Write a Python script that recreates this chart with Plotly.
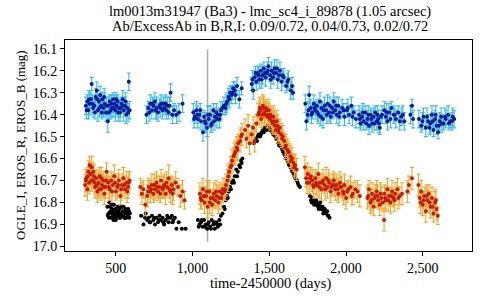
import plotly.graph_objects as go

# ---- EROS_B (blue) : (time, mag, err)
b_points = [
    (305,16.36,0.04),(315,16.34,0.03),(322,16.38,0.04),(330,16.35,0.05),(338,16.33,0.04),
    (343,16.26,0.03),(352,16.37,0.04),(360,16.36,0.03),(368,16.32,0.04),(376,16.29,0.04),
    (383,16.38,0.05),(390,16.34,0.03),(398,16.31,0.04),(405,16.36,0.04),(412,16.33,0.03),
    (420,16.37,0.04),(428,16.35,0.05),(436,16.39,0.04),(448,16.43,0.05),(452,16.36,0.04),
    (460,16.34,0.03),(468,16.38,0.04),(475,16.37,0.04),(483,16.33,0.03),(490,16.35,0.04),
    (498,16.38,0.05),(505,16.36,0.04),(512,16.34,0.03),(520,16.37,0.04),(528,16.39,0.04),
    (536,16.35,0.03),(545,16.33,0.04),(552,16.38,0.05),(560,16.36,0.04),(568,16.40,0.04),
    (575,16.37,0.03),(585,16.25,0.04),(590,16.38,0.04),
    (310,16.38,0.04),(326,16.33,0.04),(348,16.35,0.04),(364,16.39,0.03),(379,16.33,0.04),
    (394,16.37,0.04),(409,16.39,0.03),(424,16.32,0.04),(440,16.36,0.04),(456,16.39,0.03),
    (472,16.35,0.04),(487,16.37,0.04),(502,16.33,0.03),(516,16.39,0.04),(532,16.37,0.04),
    (548,16.36,0.03),(564,16.34,0.04),(580,16.39,0.04),
    (700,16.40,0.04),(712,16.37,0.03),(725,16.35,0.04),(735,16.38,0.04),(745,16.36,0.03),
    (755,16.34,0.04),(765,16.37,0.05),(775,16.39,0.04),(785,16.36,0.03),(795,16.35,0.04),
    (805,16.38,0.04),(815,16.37,0.03),(825,16.35,0.04),(835,16.36,0.04),(845,16.39,0.03),
    (857,16.30,0.04),(868,16.40,0.04),(880,16.38,0.03),(895,16.40,0.04),(912,16.39,0.04),
    (935,16.35,0.04),
    (718,16.39,0.04),(740,16.35,0.03),(760,16.38,0.04),(790,16.37,0.04),(810,16.35,0.03),
    (830,16.38,0.04),(850,16.36,0.04),
    (1005,16.39,0.04),(1015,16.41,0.03),(1025,16.38,0.04),(1035,16.42,0.04),(1045,16.40,0.03),
    (1055,16.43,0.04),(1068,16.48,0.04),(1075,16.41,0.03),(1085,16.44,0.04),(1095,16.46,0.04),
    (1105,16.42,0.03),(1115,16.40,0.04),(1125,16.44,0.04),(1135,16.38,0.03),(1145,16.41,0.04),
    (1155,16.39,0.04),(1165,16.40,0.03),(1175,16.42,0.04),(1185,16.38,0.04),(1195,16.37,0.03),
    (1010,16.42,0.04),(1030,16.40,0.04),(1050,16.38,0.03),(1080,16.43,0.04),(1100,16.40,0.04),
    (1120,16.45,0.03),(1140,16.43,0.04),(1160,16.42,0.04),(1180,16.40,0.03),
    (1205,16.36,0.04),(1215,16.37,0.03),(1225,16.34,0.04),(1235,16.32,0.04),(1245,16.30,0.03),
    (1255,16.31,0.04),(1265,16.28,0.03),(1275,16.29,0.04),(1290,16.27,0.04),(1305,16.33,0.04),
    (1320,16.28,0.03),(1220,16.35,0.04),(1240,16.33,0.04),(1260,16.30,0.03),(1280,16.31,0.04),
    (1385,16.26,0.03),(1395,16.29,0.04),(1405,16.23,0.03),(1415,16.25,0.04),(1425,16.21,0.03),
    (1435,16.24,0.04),(1445,16.20,0.03),(1455,16.22,0.04),(1465,16.19,0.03),(1475,16.23,0.04),
    (1485,16.21,0.03),(1495,16.18,0.04),(1505,16.22,0.03),(1515,16.20,0.04),(1525,16.23,0.03),
    (1535,16.19,0.04),(1545,16.21,0.03),(1555,16.24,0.04),(1565,16.22,0.03),(1580,16.25,0.04),
    (1595,16.23,0.04),(1610,16.27,0.03),(1625,16.24,0.04),(1640,16.29,0.04),(1655,16.30,0.03),
    (1390,16.24,0.04),(1410,16.21,0.03),(1430,16.22,0.04),(1450,16.24,0.04),(1470,16.21,0.03),
    (1490,16.20,0.04),(1510,16.24,0.04),(1530,16.21,0.03),(1550,16.19,0.04),(1570,16.20,0.04),
    (1588,16.22,0.03),(1618,16.25,0.04),(1648,16.27,0.04),
    (1735,16.35,0.04),(1742,16.43,0.04),(1750,16.40,0.03),(1760,16.31,0.04),(1770,16.37,0.04),
    (1780,16.39,0.03),(1790,16.35,0.04),(1800,16.38,0.04),(1810,16.36,0.03),(1820,16.40,0.04),
    (1830,16.34,0.04),(1840,16.37,0.03),(1850,16.42,0.04),(1860,16.36,0.04),(1870,16.38,0.03),
    (1880,16.35,0.04),(1890,16.39,0.04),(1900,16.41,0.03),(1910,16.37,0.04),(1920,16.34,0.04),
    (1930,16.38,0.03),(1940,16.40,0.04),(1950,16.36,0.04),(1960,16.39,0.03),(1975,16.37,0.04),
    (1990,16.41,0.04),(2005,16.38,0.03),(2020,16.40,0.04),(2035,16.36,0.04),(2050,16.39,0.03),
    (2065,16.42,0.04),
    (1755,16.38,0.04),(1775,16.40,0.04),(1795,16.37,0.03),(1815,16.39,0.04),(1835,16.41,0.04),
    (1855,16.38,0.03),(1875,16.40,0.04),(1895,16.36,0.04),(1915,16.39,0.03),(1935,16.36,0.04),
    (1955,16.41,0.04),(1985,16.38,0.03),(2012,16.37,0.04),(2042,16.41,0.04),
    (2085,16.40,0.04),(2095,16.44,0.03),(2105,16.41,0.04),(2115,16.43,0.04),(2125,16.39,0.03),
    (2140,16.42,0.04),(2150,16.45,0.04),(2160,16.40,0.03),(2170,16.44,0.04),(2180,16.41,0.04),
    (2190,16.39,0.03),(2200,16.43,0.04),(2210,16.42,0.04),(2220,16.46,0.03),(2235,16.40,0.04),
    (2250,16.38,0.04),(2260,16.41,0.03),(2270,16.43,0.04),(2280,16.39,0.04),(2295,16.37,0.03),
    (2310,16.40,0.04),(2325,16.42,0.04),(2340,16.39,0.03),(2360,16.41,0.04),(2380,16.43,0.04),
    (2430,16.36,0.03),(2420,16.40,0.04),(2437,16.42,0.04),
    (2090,16.42,0.04),(2110,16.39,0.04),(2132,16.44,0.03),(2145,16.40,0.04),(2165,16.42,0.04),
    (2185,16.44,0.03),(2205,16.40,0.04),(2215,16.44,0.04),(2228,16.41,0.03),(2265,16.39,0.04),
    (2290,16.42,0.04),(2318,16.40,0.03),(2350,16.43,0.04),(2370,16.40,0.04),
    (2475,16.42,0.04),(2490,16.45,0.03),(2505,16.41,0.04),(2520,16.46,0.04),(2535,16.43,0.03),
    (2550,16.44,0.04),(2560,16.40,0.04),(2570,16.47,0.03),(2580,16.42,0.04),(2590,16.45,0.04),
    (2600,16.48,0.03),(2610,16.43,0.04),(2620,16.41,0.04),(2635,16.44,0.03),(2650,16.42,0.04),
    (2665,16.40,0.04),(2680,16.43,0.03),(2695,16.41,0.04),(2705,16.42,0.04),
    (2498,16.43,0.04),(2528,16.41,0.04),(2545,16.46,0.03),(2565,16.43,0.04),(2585,16.40,0.04),
    (2605,16.45,0.03),(2625,16.44,0.04),(2645,16.41,0.04),(2670,16.44,0.03),(2690,16.43,0.04),
]

# ---- EROS_R (red) : (time, mag, err)
r_points = [
    (300,16.72,0.05),(308,16.69,0.04),(315,16.74,0.05),(322,16.66,0.05),(330,16.63,0.04),
    (337,16.67,0.05),(343,16.64,0.05),(350,16.70,0.04),(357,16.68,0.05),(365,16.73,0.05),
    (372,16.69,0.04),(380,16.75,0.05),(388,16.71,0.05),(395,16.68,0.04),(403,16.74,0.05),
    (410,16.72,0.05),(418,16.70,0.04),(425,16.76,0.05),(433,16.73,0.05),(440,16.66,0.04),
    (450,16.71,0.05),(460,16.74,0.05),(470,16.70,0.04),(480,16.72,0.05),(490,16.68,0.05),
    (500,16.75,0.04),(510,16.73,0.05),(520,16.70,0.05),(530,16.77,0.04),(540,16.72,0.05),
    (550,16.69,0.05),(560,16.74,0.04),(570,16.71,0.05),(580,16.73,0.05),(590,16.70,0.04),
    (304,16.70,0.05),(318,16.68,0.04),(326,16.71,0.05),(340,16.70,0.05),(354,16.66,0.04),
    (362,16.71,0.05),(376,16.72,0.05),(392,16.74,0.04),(406,16.69,0.05),(422,16.73,0.05),
    (437,16.70,0.04),(455,16.73,0.05),(475,16.75,0.05),(495,16.71,0.04),(515,16.72,0.05),
    (535,16.74,0.05),(555,16.72,0.04),(575,16.75,0.05),(585,16.71,0.05),
    (660,16.73,0.04),(670,16.76,0.05),(680,16.74,0.04),(692,16.81,0.05),(705,16.77,0.05),
    (715,16.73,0.04),(725,16.75,0.05),(735,16.72,0.05),(745,16.76,0.04),(755,16.74,0.05),
    (765,16.71,0.05),(775,16.75,0.04),(785,16.73,0.05),(795,16.70,0.05),(805,16.74,0.04),
    (815,16.72,0.05),(825,16.76,0.05),(835,16.73,0.04),(845,16.69,0.06),(855,16.75,0.05),
    (865,16.72,0.04),(875,16.74,0.05),(890,16.71,0.05),(905,16.73,0.04),(920,16.77,0.05),
    (935,16.75,0.05),(948,16.79,0.04),
    (710,16.75,0.05),(730,16.74,0.04),(750,16.72,0.05),(770,16.73,0.05),(790,16.76,0.04),
    (810,16.73,0.05),(830,16.71,0.05),(850,16.74,0.04),(870,16.76,0.05),
    (1048,16.76,0.05),(1058,16.79,0.04),(1068,16.74,0.05),(1078,16.80,0.05),(1088,16.77,0.04),
    (1098,16.82,0.05),(1108,16.75,0.05),(1118,16.78,0.04),(1128,16.81,0.05),(1138,16.76,0.05),
    (1148,16.79,0.04),(1158,16.77,0.05),(1168,16.80,0.05),(1178,16.75,0.04),(1188,16.78,0.05),
    (1198,16.74,0.05),
    (1053,16.78,0.05),(1073,16.77,0.04),(1093,16.75,0.05),(1113,16.80,0.05),(1133,16.78,0.04),
    (1153,16.75,0.05),(1173,16.78,0.05),(1193,16.76,0.04),
    (1208,16.75,0.04),(1218,16.72,0.05),(1228,16.70,0.05),(1238,16.66,0.04),(1248,16.64,0.05),
    (1258,16.61,0.05),(1268,16.59,0.04),(1278,16.57,0.05),(1288,16.55,0.05),(1298,16.53,0.04),
    (1310,16.52,0.05),(1322,16.49,0.05),
    (1213,16.74,0.05),(1233,16.68,0.05),(1253,16.63,0.04),(1273,16.58,0.05),(1293,16.56,0.05),
    (1316,16.50,0.04),
    (1342,16.47,0.05),(1352,16.51,0.04),(1362,16.45,0.05),(1372,16.53,0.05),(1385,16.49,0.04),
    (1395,16.46,0.05),(1405,16.52,0.05),(1415,16.44,0.04),(1428,16.40,0.05),(1438,16.37,0.05),
    (1448,16.42,0.04),(1458,16.36,0.05),(1468,16.39,0.05),(1478,16.37,0.04),(1488,16.41,0.05),
    (1498,16.38,0.05),(1508,16.40,0.04),(1518,16.43,0.05),(1528,16.41,0.05),(1538,16.45,0.04),
    (1548,16.43,0.05),(1558,16.47,0.05),(1568,16.46,0.04),(1578,16.49,0.05),(1588,16.50,0.05),
    (1598,16.52,0.04),(1608,16.54,0.05),(1618,16.56,0.05),(1628,16.57,0.04),(1638,16.59,0.05),
    (1648,16.60,0.05),(1658,16.62,0.04),(1668,16.63,0.05),(1678,16.65,0.05),
    (1433,16.39,0.05),(1443,16.38,0.05),(1453,16.40,0.04),(1463,16.37,0.05),(1473,16.40,0.05),
    (1483,16.38,0.04),(1493,16.40,0.05),(1503,16.42,0.05),(1513,16.41,0.04),(1523,16.44,0.05),
    (1533,16.43,0.05),(1543,16.47,0.04),(1553,16.45,0.05),(1563,16.48,0.05),(1583,16.51,0.04),
    (1603,16.55,0.05),(1623,16.57,0.05),(1643,16.61,0.04),(1663,16.64,0.05),
    (1732,16.64,0.05),(1740,16.69,0.04),(1750,16.67,0.05),(1760,16.71,0.05),(1770,16.68,0.04),
    (1780,16.70,0.05),(1790,16.73,0.05),(1800,16.69,0.04),(1810,16.72,0.05),(1820,16.67,0.05),
    (1830,16.71,0.04),(1840,16.74,0.05),(1850,16.70,0.05),(1860,16.72,0.04),(1870,16.69,0.05),
    (1880,16.73,0.05),(1890,16.71,0.04),(1900,16.75,0.05),(1910,16.72,0.05),(1920,16.70,0.04),
    (1930,16.74,0.05),(1940,16.72,0.05),(1950,16.76,0.04),(1960,16.71,0.05),(1970,16.73,0.05),
    (1980,16.75,0.04),(1990,16.72,0.05),(2000,16.78,0.05),(2015,16.74,0.04),(2030,16.73,0.05),
    (2045,16.76,0.05),(2060,16.74,0.04),(2075,16.75,0.05),(2090,16.77,0.05),
    (1745,16.71,0.05),(1765,16.69,0.05),(1785,16.72,0.04),(1805,16.71,0.05),(1825,16.73,0.05),
    (1845,16.71,0.04),(1865,16.74,0.05),(1885,16.70,0.05),(1905,16.73,0.04),(1925,16.72,0.05),
    (1945,16.74,0.05),(1965,16.73,0.04),(1985,16.76,0.05),(2008,16.75,0.05),(2038,16.77,0.04),
    (2140,16.78,0.05),(2150,16.74,0.04),(2160,16.80,0.05),(2170,16.76,0.05),(2180,16.82,0.04),
    (2190,16.77,0.05),(2200,16.75,0.05),(2210,16.79,0.04),(2220,16.81,0.05),(2230,16.78,0.05),
    (2248,16.88,0.05),(2250,16.76,0.04),(2260,16.79,0.05),(2270,16.74,0.05),(2280,16.77,0.04),
    (2290,16.80,0.05),(2300,16.75,0.05),(2310,16.78,0.04),(2320,16.76,0.05),(2335,16.74,0.05),
    (2350,16.77,0.04),(2365,16.76,0.05),(2400,16.75,0.05),(2410,16.72,0.04),(2430,16.69,0.05),
    (2145,16.77,0.05),(2165,16.79,0.05),(2185,16.78,0.04),(2205,16.77,0.05),(2225,16.76,0.05),
    (2240,16.80,0.04),(2255,16.78,0.05),(2275,16.79,0.05),(2295,16.77,0.04),(2315,16.79,0.05),
    (2340,16.78,0.05),
    (2472,16.72,0.05),(2480,16.78,0.04),(2490,16.75,0.05),(2500,16.81,0.05),(2510,16.77,0.04),
    (2520,16.84,0.05),(2530,16.79,0.05),(2540,16.76,0.04),(2550,16.82,0.05),(2560,16.78,0.05),
    (2570,16.85,0.04),(2580,16.80,0.05),(2590,16.83,0.05),(2598,16.86,0.04),
    (2485,16.80,0.05),(2505,16.79,0.04),(2525,16.77,0.05),(2545,16.80,0.05),(2565,16.82,0.04),
    (2585,16.79,0.05),
]

# ---- OGLE_I (black) : (time, mag)
i_points = [
    (445,16.82),(452,16.85),(455,16.87),(458,16.80),(465,16.84),(470,16.87),(475,16.81),
    (476,16.83),(482,16.86),(488,16.81),(494,16.85),(495,16.87),(500,16.88),(506,16.84),
    (512,16.82),(515,16.84),(518,16.86),(524,16.83),(530,16.87),(535,16.82),(536,16.85),
    (542,16.82),(548,16.86),(554,16.84),(555,16.87),(560,16.87),(566,16.83),(572,16.85),
    (575,16.84),(578,16.86),(585,16.84),(592,16.85),
    (448,16.86),(462,16.82),(468,16.85),(480,16.84),(485,16.88),(498,16.83),(503,16.86),
    (510,16.85),(521,16.87),(527,16.85),(539,16.86),(545,16.84),(551,16.82),(563,16.85),
    (569,16.87),(581,16.83),(588,16.87),
    (665,16.86),(680,16.90),(695,16.85),(705,16.88),(715,16.87),(725,16.89),(735,16.86),
    (745,16.88),(755,16.90),(765,16.87),(775,16.89),(785,16.86),(795,16.88),(805,16.87),
    (815,16.90),(825,16.88),(835,16.86),(845,16.89),(855,16.87),(865,16.86),(875,16.88),
    (885,16.87),(895,16.92),(910,16.89),(930,16.92),(955,16.92),
    (690,16.87),(720,16.89),(750,16.87),(780,16.88),(810,16.89),(840,16.87),(870,16.89),
    (1035,16.88),(1045,16.90),(1055,16.89),(1065,16.91),(1075,16.88),(1085,16.90),(1095,16.92),
    (1105,16.89),(1115,16.91),(1125,16.88),(1135,16.90),(1145,16.92),(1155,16.89),(1165,16.91),
    (1175,16.88),(1185,16.86),
    (1040,16.91),(1060,16.88),(1080,16.91),(1100,16.90),(1120,16.92),(1140,16.89),(1160,16.90),
    (1180,16.90),
    (1195,16.85),(1205,16.82),(1215,16.79),(1225,16.77),(1235,16.75),(1245,16.73),(1255,16.71),
    (1265,16.70),(1275,16.68),(1285,16.65),(1295,16.66),(1305,16.63),(1315,16.61),(1325,16.60),
    (1210,16.83),(1230,16.78),(1250,16.74),(1270,16.71),(1290,16.68),(1310,16.64),(1320,16.62),
    (1400,16.53),(1410,16.51),(1420,16.52),(1430,16.49),(1440,16.50),(1450,16.48),(1460,16.47),
    (1470,16.46),(1480,16.46),(1490,16.45),(1500,16.46),(1510,16.47),(1520,16.48),(1530,16.49),
    (1540,16.50),(1550,16.51),(1560,16.53),(1570,16.54),(1580,16.55),(1590,16.57),(1600,16.58),
    (1610,16.60),(1620,16.61),(1630,16.63),(1640,16.64),(1650,16.66),(1660,16.67),(1670,16.69),
    (1680,16.70),(1690,16.72),(1700,16.73),
    (1405,16.52),(1425,16.50),(1445,16.49),(1465,16.48),(1485,16.47),(1505,16.47),(1525,16.49),
    (1545,16.51),(1565,16.54),(1585,16.56),(1605,16.59),(1625,16.62),(1645,16.65),(1665,16.68),
    (1685,16.71),
    (1765,16.77),(1772,16.79),(1780,16.78),(1788,16.80),(1795,16.79),(1802,16.81),(1810,16.80),
    (1818,16.82),(1825,16.81),(1832,16.80),(1840,16.83),(1848,16.82),(1855,16.84),(1862,16.83),
    (1870,16.85),(1878,16.84),(1885,16.86),(1893,16.87),
    (1776,16.80),(1792,16.81),(1806,16.79),(1822,16.83),(1836,16.82),(1852,16.85),(1866,16.84),
    (1882,16.86),
]

# event marker time and extent
event_t = 1098
event_mag_top = 16.103
event_mag_bottom = 16.98

title_1 = "lm0013m31947 (Ba3) - lmc_sc4_i_89878 (1.05 arcsec)"
title_2 = "Ab/ExcessAb in B,R,I: 0.09/0.72, 0.04/0.73, 0.02/0.72"
x_title = "time-2450000 (days)"
y_title = "OGLE_I, EROS_R, EROS_B (mag)"
y_ticks = [16.1, 16.2, 16.3, 16.4, 16.5, 16.6, 16.7, 16.8, 16.9, 17.0]
x_ticks = [500, 1000, 1500, 2000, 2500]

FONT = "Liberation Serif"

fig = go.Figure()

fig.add_trace(go.Scatter(
    x=[p[0] for p in i_points], y=[p[1] for p in i_points], mode="markers",
    marker=dict(color="#000000", size=4), showlegend=False, hoverinfo="skip"))

fig.add_trace(go.Scatter(
    x=[p[0] for p in r_points], y=[p[1] for p in r_points], mode="markers",
    marker=dict(color="#c41a08", size=4),
    error_y=dict(type="data", array=[p[2] for p in r_points], color="#f7a428",
                 thickness=1.1, width=2),
    showlegend=False, hoverinfo="skip"))

fig.add_trace(go.Scatter(
    x=[p[0] for p in b_points], y=[p[1] for p in b_points], mode="markers",
    marker=dict(color="#0a1a9c", size=4),
    error_y=dict(type="data", array=[p[2] for p in b_points], color="#38b8ec",
                 thickness=1.1, width=2),
    showlegend=False, hoverinfo="skip"))

fig.add_shape(type="line", x0=event_t, x1=event_t, y0=event_mag_top, y1=event_mag_bottom,
              xref="x", yref="y", line=dict(color="#aaaaaa", width=1.5), layer="below")

fig.add_annotation(text=title_1, xref="paper", yref="paper", x=0.504, y=1.133,
                   xanchor="center", yanchor="middle", showarrow=False,
                   font=dict(family=FONT, size=14.5))
fig.add_annotation(text=title_2, xref="paper", yref="paper", x=0.504, y=1.068,
                   xanchor="center", yanchor="middle", showarrow=False,
                   font=dict(family=FONT, size=14.5))
fig.add_annotation(text=x_title, xref="paper", yref="paper", x=0.504, y=-0.152,
                   xanchor="center", yanchor="middle", showarrow=False,
                   font=dict(family=FONT, size=14.5))
fig.add_annotation(text=y_title, xref="paper", yref="paper", x=-0.111, y=0.502,
                   xanchor="center", yanchor="middle", showarrow=False, textangle=-90,
                   font=dict(family=FONT, size=13))

fig.update_layout(
    width=480, height=300,
    margin=dict(l=65, r=8, t=40, b=49),
    paper_bgcolor="white", plot_bgcolor="white",
    font=dict(family=FONT, color="#000000", size=14),
    hovermode=False,
    xaxis=dict(range=[169, 2821], tickvals=x_ticks, tickformat=",d",
               showgrid=False, zeroline=False, showline=True, mirror=True,
               linecolor="black", linewidth=1, ticks="outside", ticklen=4,
               tickcolor="black", tickfont=dict(family=FONT, size=14)),
    yaxis=dict(range=[17.021, 16.06], tickvals=y_ticks, tickformat=".1f",
               showgrid=False, zeroline=False, showline=True, mirror=True,
               linecolor="black", linewidth=1, ticks="outside", ticklen=4,
               tickcolor="black", tickfont=dict(family=FONT, size=14)),
)

fig.write_html("out.html", config={"displayModeBar": False},
               post_script="document.body.style.margin='0';")
